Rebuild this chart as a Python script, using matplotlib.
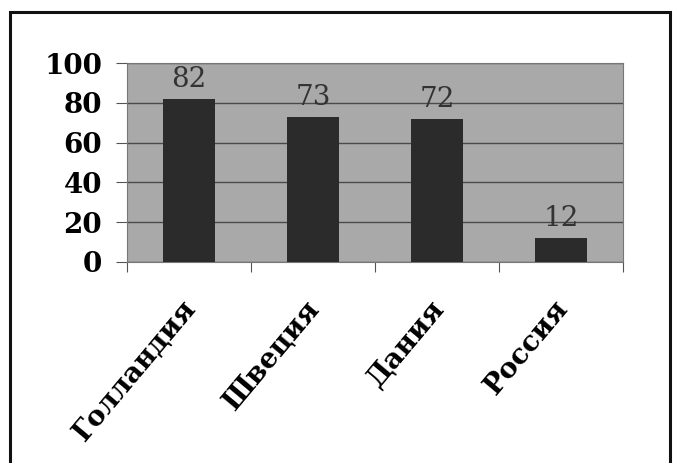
import matplotlib.pyplot as plt
import matplotlib.transforms as mtransforms
from matplotlib.patches import Rectangle

countries = ["Голландия", "Швеция", "Дания", "Россия"]
values = [82, 73, 72, 12]
yticks = [0, 20, 40, 60, 80, 100]

fig = plt.figure(figsize=(6.78, 4.63), dpi=100)
fig.patch.set_facecolor("white")

# outer frame of the scanned figure
frame = Rectangle((10 / 678, -0.05), 660 / 678, 1 - 12 / 463 + 0.05,
                  transform=fig.transFigure, fill=False,
                  edgecolor="#111111", linewidth=2.2, clip_on=False)
fig.patches.append(frame)

ax = fig.add_axes([127 / 678, 1 - 262 / 463, 496 / 678, 199 / 463])
ax.set_facecolor("#a9a9a9")

x = range(len(countries))
bars = ax.bar(x, values, width=0.42, color="#2b2b2b", zorder=3)
for xi, v in zip(x, values):
    ax.text(xi, v + 3, str(v), ha="center", va="bottom",
            fontsize=20, family="DejaVu Serif", color="#333333", zorder=4)

ax.set_xlim(-0.5, len(countries) - 0.5)
ax.set_ylim(0, 100)
ax.set_yticks(yticks)
ax.set_yticklabels([str(t) for t in yticks], fontsize=20,
                   family="DejaVu Serif", fontweight="bold")
ax.yaxis.grid(True, color="#4a4a4a", linewidth=1.0, zorder=1)
ax.set_axisbelow(True)

# category boundary ticks on the x axis
ax.set_xticks([i - 0.5 for i in range(len(countries) + 1)], minor=False)
ax.set_xticklabels([])
ax.set_xticks(list(x), minor=True)
ax.set_xticklabels(countries, minor=True, rotation=50, ha="right", va="top",
                   rotation_mode="anchor", fontsize=20,
                   family="DejaVu Serif", fontweight="bold")
ax.tick_params(axis="x", which="minor", length=0, pad=24)
ax.tick_params(axis="x", which="major", length=7, color="#555555", direction="out")
ax.tick_params(axis="y", length=8, color="#555555", direction="out", pad=10)

# nudge the rotated names a little to the left
shift = mtransforms.ScaledTranslation(-8 / 100, 0, fig.dpi_scale_trans)
for lbl in ax.get_xticklabels(minor=True):
    lbl.set_transform(lbl.get_transform() + shift)

for s in ax.spines.values():
    s.set_color("#777777")
    s.set_linewidth(0.8)

fig.savefig("out.png", dpi=100)
